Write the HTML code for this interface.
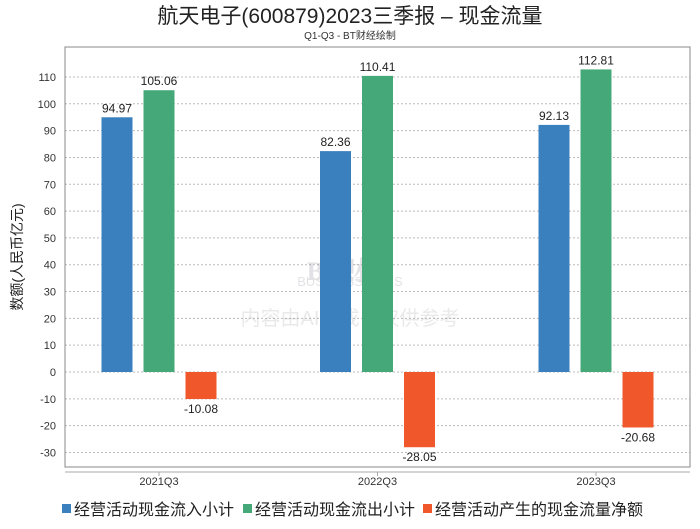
<!DOCTYPE html>
<html><head><meta charset="utf-8"><style>
body{margin:0;background:#fff;font-family:"Liberation Sans","Noto Sans CJK SC",sans-serif}
</style></head><body>
<svg width="700" height="524" xmlns="http://www.w3.org/2000/svg" font-family="Liberation Sans, Noto Sans CJK SC, sans-serif">
<rect width="700" height="524" fill="#fff"/>
<text x="350" y="23" text-anchor="middle" font-size="21" fill="#222">航天电子(600879)2023三季报 – 现金流量</text>
<text x="350" y="39" text-anchor="middle" font-size="10" fill="#333">Q1-Q3 - BT财经绘制</text>
<g id="grid"></g>
<g opacity="0.18">
<text x="350" y="280" text-anchor="middle" font-size="26" font-family="Liberation Serif, Noto Serif CJK SC, serif" fill="#667" font-weight="bold">BT财经</text>
<text x="350" y="286" text-anchor="middle" font-size="13" fill="#667" dy="0">BUSINESSTIMES</text>
<text x="350" y="325" text-anchor="middle" font-size="20" fill="#888">内容由AI生成，仅供参考</text>
</g>
<g id="bars"></g>
<rect x="65" y="47" width="625" height="420" fill="none" stroke="#888" stroke-width="1"/>
<line x1="65" y1="472" x2="690" y2="472" stroke="#aaa"/>
<text transform="translate(22,257) rotate(-90)" text-anchor="middle" font-size="14" fill="#222">数额(人民币亿元)</text>
<g id="legend" font-size="16" fill="#222">
<rect x="62" y="504" width="9" height="9" fill="#3a80bf"/>
<text x="74" y="515">经营活动现金流入小计</text>
<rect x="243" y="504" width="9" height="9" fill="#44a878"/>
<text x="255" y="515">经营活动现金流出小计</text>
<rect x="423" y="504" width="9" height="9" fill="#f0572a"/>
<text x="435" y="515">经营活动产生的现金流量净额</text>
</g>
</svg>
<script>
const categories=["2021Q3","2022Q3","2023Q3"];
const inflow=[94.97,82.36,92.13];
const outflow=[105.06,110.41,112.81];
const net=[-10.08,-28.05,-20.68];
const yTicks=[-30,-20,-10,0,10,20,30,40,50,60,70,80,90,100,110];
const NS="http://www.w3.org/2000/svg";
const y=v=>372-v*2.682;
const xc=i=>159+218.5*i;
function mk(t,a,p){const e=document.createElementNS(NS,t);for(const k in a)e.setAttribute(k,a[k]);p.appendChild(e);return e;}
const grid=document.getElementById('grid'),bars=document.getElementById('bars');
yTicks.forEach(v=>{
 const l=mk('line',{x1:65,x2:690,y1:y(v),y2:y(v),stroke:'#bbb','stroke-dasharray':'2,2'},grid);
 
 
 const t=mk('text',{x:56,y:y(v)+4,'text-anchor':'end','font-size':11,fill:'#333'},grid);
 t.textContent=v;
 
 
});
const series=[[inflow,'#3a80bf','inflow',-42],[outflow,'#44a878','outflow',0],[net,'#f0572a','net',42]];
categories.forEach((c,i)=>{
 const tk=mk('line',{x1:xc(i),x2:xc(i),y1:472,y2:476,stroke:'#aaa'},grid);
 
 
 const t=mk('text',{x:xc(i),y:485,'text-anchor':'middle','font-size':11,fill:'#333'},grid);
 t.textContent=c;
 
 
 series.forEach(([arr,col,nm,off])=>{
  const v=arr[i],x=xc(i)+off-15.5,top=Math.min(y(v),y(0)),h=Math.abs(y(v)-y(0));
  const r=mk('rect',{x:x,y:top,width:31,height:h,fill:col},bars);
  
  
  const lb=mk('text',{x:x+15.5,y:v>=0?y(v)-5:y(v)+14,'text-anchor':'middle','font-size':12,fill:'#222'},bars);
  lb.textContent=v.toFixed(2);
  
  
 });
});
</script>
</body></html>
